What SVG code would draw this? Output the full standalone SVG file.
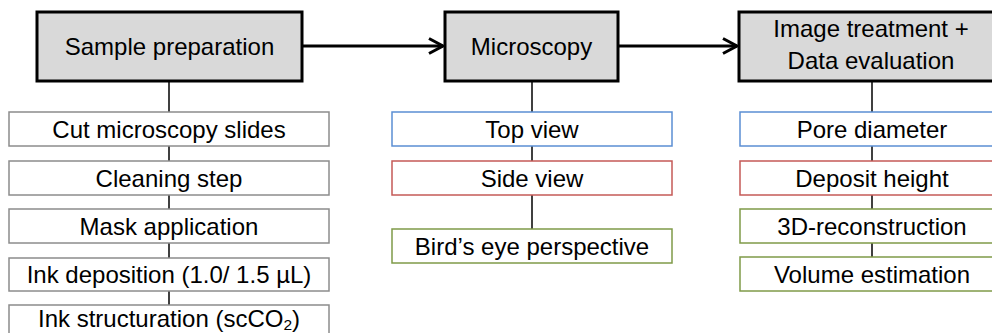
<svg xmlns="http://www.w3.org/2000/svg" width="992" height="333" viewBox="0 0 992 333">
  <style>
    text { font-family: "Liberation Sans", Arial, sans-serif; font-size: 24px; fill: #000; text-anchor: middle; }
    .head { fill: #d9d9d9; stroke: #000; stroke-width: 3; }
    .step { fill: #fff; stroke-width: 1.5; }
    .gray { stroke: #8c8c8c; }
    .blue { stroke: #5b8ed3; }
    .red { stroke: #c55a57; }
    .green { stroke: #7f9a48; }
    .flow { stroke: #000; stroke-width: 3; fill: none; marker-end: url(#chev); }
    .tree { stroke: #000; stroke-width: 1.5; fill: none; }
  </style>
  <defs>
    <marker id="chev" markerUnits="userSpaceOnUse" markerWidth="20" markerHeight="20" viewBox="-16 -10 20 20" refX="0" refY="0" orient="auto">
      <path d="M-14,-7.5 L0,0 L-14,7.5" fill="none" stroke="#000" stroke-width="3"/>
    </marker>
  </defs>

  <!-- connectors -->
  <g id="connectors">
    <line class="tree" x1="169" y1="81" x2="169" y2="306"/>
    <line class="tree" x1="532" y1="81" x2="532" y2="230"/>
    <line class="tree" x1="872" y1="81" x2="872" y2="258"/>
    <line class="flow" x1="302" y1="46" x2="443" y2="46"/>
    <line class="flow" x1="618" y1="46" x2="737" y2="46"/>
  </g>

  <!-- column 1 -->
  <g id="sample-preparation">
    <rect class="head" x="37" y="12" width="265" height="69"/>
    <text x="169.5" y="55">Sample preparation</text>
  </g>
  <g id="cut-slides">
    <rect class="step gray" x="9" y="112" width="320" height="34"/>
    <text x="169" y="137.5">Cut microscopy slides</text>
  </g>
  <g id="cleaning">
    <rect class="step gray" x="9" y="161" width="320" height="34"/>
    <text x="169" y="186.5">Cleaning step</text>
  </g>
  <g id="mask">
    <rect class="step gray" x="9" y="209" width="320" height="34"/>
    <text x="169" y="234.5">Mask application</text>
  </g>
  <g id="ink-deposition">
    <rect class="step gray" x="9" y="258" width="320" height="33"/>
    <text x="169" y="283">Ink deposition (1.0/ 1.5 µL)</text>
  </g>
  <g id="ink-structuration">
    <rect class="step gray" x="9" y="305" width="320" height="34"/>
    <text x="169" y="327">Ink structuration (scCO<tspan font-size="15.5" dy="3">2</tspan><tspan dy="-3">)</tspan></text>
  </g>

  <!-- column 2 -->
  <g id="microscopy">
    <rect class="head" x="445" y="12" width="173" height="69"/>
    <text x="531.5" y="55">Microscopy</text>
  </g>
  <g id="top-view">
    <rect class="step blue" x="392" y="112" width="280" height="34"/>
    <text x="532" y="137.5">Top view</text>
  </g>
  <g id="side-view">
    <rect class="step red" x="392" y="161" width="280" height="34"/>
    <text x="532" y="186.5">Side view</text>
  </g>
  <g id="birds-eye">
    <rect class="step green" x="392" y="229" width="280" height="34"/>
    <text x="532" y="254.5">Bird’s eye perspective</text>
  </g>

  <!-- column 3 -->
  <g id="image-treatment">
    <rect class="head" x="739" y="12" width="268" height="69"/>
    <text x="871" y="37">Image treatment +</text>
    <text x="871" y="68.5">Data evaluation</text>
  </g>
  <g id="pore-diameter">
    <rect class="step blue" x="740" y="112" width="264" height="34"/>
    <text x="872" y="137.5">Pore diameter</text>
  </g>
  <g id="deposit-height">
    <rect class="step red" x="740" y="161" width="264" height="34"/>
    <text x="872" y="186.5">Deposit height</text>
  </g>
  <g id="reconstruction">
    <rect class="step green" x="740" y="209" width="264" height="34"/>
    <text x="872" y="234.5">3D-reconstruction</text>
  </g>
  <g id="volume">
    <rect class="step green" x="740" y="257" width="264" height="34"/>
    <text x="872" y="282.5">Volume estimation</text>
  </g>
</svg>
